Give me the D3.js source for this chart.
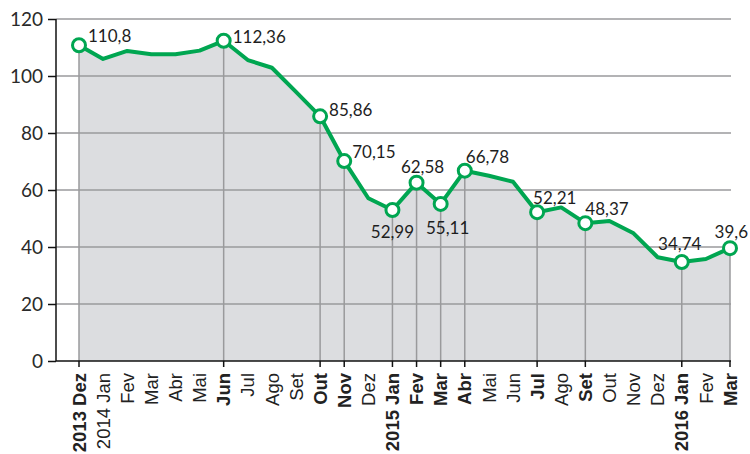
<!DOCTYPE html>
<html>
<head>
<meta charset="utf-8">
<script src="https://cdn.jsdelivr.net/npm/d3@7"></script>
<style>
  body { margin: 0; background: #fff; }
  svg { display: block; }
</style>
</head>
<body>
<div id="chart"></div>
<script>
// Data
var months = ["Dez", "Jan", "Fev", "Mar", "Abr", "Mai", "Jun", "Jul", "Ago", "Set", "Out", "Nov",
              "Dez", "Jan", "Fev", "Mar", "Abr", "Mai", "Jun", "Jul", "Ago", "Set", "Out", "Nov",
              "Dez", "Jan", "Fev", "Mar"];
var years = ["2013", "2014", "", "", "", "", "", "", "", "", "", "",
             "", "2015", "", "", "", "", "", "", "", "", "", "",
             "", "2016", "", ""];
var values = [110.8, 106.0, 108.8, 107.6, 107.6, 108.9, 112.36, 105.6, 102.9, 94.4, 85.86, 70.15,
              57.1, 52.99, 62.58, 55.11, 66.78, 65.0, 62.9, 52.21, 53.9, 48.37, 49.1, 44.8,
              36.4, 34.74, 35.8, 39.6];
var valueLabels = ["110,8", "", "", "", "", "", "112,36", "", "", "", "85,86", "70,15",
                   "", "52,99", "62,58", "55,11", "66,78", "", "", "52,21", "", "48,37", "", "",
                   "", "34,74", "", "39,6"];
var yTicks = [0, 20, 40, 60, 80, 100, 120];

// Label placement for highlighted points: [dx, dy, anchor]
var labelPlace = {
    0: [9, -3, "start"], 6: [9, 2, "start"], 10: [9, 0, "start"], 11: [8, -3, "start"],
    13: [0, 28, "middle"], 14: [6, -10, "middle"], 15: [7, 30, "middle"], 16: [1, -8, "start"],
    19: [-4, -8, "start"], 21: [0, -8, "start"], 25: [-2, -12, "middle"], 27: [18, -10, "end"]
};

var width = 750, height = 454;
var green = "#00a651";
var gridColor = "#9a9a9c";

var svg = d3.select("#chart").append("svg")
    .attr("width", width)
    .attr("height", height);

var idx = d3.range(values.length);

var xScale = d3.scalePoint()
    .domain(idx)
    .range([79, 730]);
var yScale = d3.scaleLinear()
    .domain([0, 120])
    .range([361, 19]);

var isKey = function(i) { return valueLabels[i] !== ""; };

// Area
svg.append("path")
    .datum(idx)
    .attr("fill", "#dcdde0")
    .attr("d", d3.area()
        .x(i => xScale(i))
        .y0(yScale(0))
        .y1(i => yScale(values[i])));

// Horizontal grid
svg.append("g")
    .selectAll("line")
    .data(yTicks.filter(d => d > 0))
    .enter()
    .append("line")
    .attr("x1", 56)
    .attr("x2", xScale(idx.length - 1) + 1)
    .attr("y1", d => yScale(d))
    .attr("y2", d => yScale(d))
    .attr("stroke", gridColor)
    .attr("stroke-width", 1.5);

// Vertical drop lines at highlighted points
svg.append("g")
    .selectAll("line")
    .data(idx.filter(isKey))
    .enter()
    .append("line")
    .attr("x1", i => xScale(i))
    .attr("x2", i => xScale(i))
    .attr("y1", i => yScale(values[i]))
    .attr("y2", yScale(0))
    .attr("stroke", gridColor)
    .attr("stroke-width", 1.5);

// Y axis
var yAxis = d3.axisLeft(yScale)
    .tickValues(yTicks)
    .tickSize(8)
    .tickPadding(5);
var yAxisG = svg.append("g")
    .attr("transform", "translate(56,0)")
    .call(yAxis);
yAxisG.select(".domain").remove();
yAxisG.append("line")
    .attr("x1", 0).attr("x2", 0)
    .attr("y1", yScale(120)).attr("y2", yScale(0))
    .attr("stroke", "#111").attr("stroke-width", 1.5);
yAxisG.selectAll(".tick line").attr("stroke", "#111").attr("stroke-width", 1.5);
yAxisG.selectAll(".tick text")
    .attr("fill", "#2a2a2a")
    .style("font-family", "Lato, sans-serif")
    .style("font-size", "19px");

// X axis
svg.append("line")
    .attr("x1", 56)
    .attr("x2", xScale(idx.length - 1) + 1)
    .attr("y1", yScale(0))
    .attr("y2", yScale(0))
    .attr("stroke", "#111")
    .attr("stroke-width", 1.5);

svg.append("g")
    .selectAll("line")
    .data(idx.filter(isKey))
    .enter()
    .append("line")
    .attr("x1", i => xScale(i))
    .attr("x2", i => xScale(i))
    .attr("y1", yScale(0))
    .attr("y2", yScale(0) + 6)
    .attr("stroke", "#111")
    .attr("stroke-width", 1.5);

svg.append("g")
    .selectAll("text")
    .data(idx)
    .enter()
    .append("text")
    .attr("transform", i => "translate(" + [xScale(i), yScale(0) + 12] + ") rotate(-90)")
    .attr("text-anchor", "end")
    .attr("dy", "0.36em")
    .attr("fill", "#222")
    .style("font-family", "'Liberation Sans', Arial, sans-serif")
    .style("font-size", "18.5px")
    .style("font-weight", i => isKey(i) ? "bold" : "normal")
    .text(i => (years[i] ? years[i] + " " : "") + months[i]);

// Line
svg.append("path")
    .datum(idx)
    .attr("fill", "none")
    .attr("stroke", green)
    .attr("stroke-width", 4)
    .attr("stroke-linejoin", "round")
    .attr("d", d3.line()
        .x(i => xScale(i))
        .y(i => yScale(values[i])));

// Markers
svg.append("g")
    .selectAll("circle")
    .data(idx.filter(isKey))
    .enter()
    .append("circle")
    .attr("cx", i => xScale(i))
    .attr("cy", i => yScale(values[i]))
    .attr("r", 6.5)
    .attr("fill", "#fff")
    .attr("stroke", green)
    .attr("stroke-width", 3);

// Value labels
svg.append("g")
    .selectAll("text")
    .data(idx.filter(isKey))
    .enter()
    .append("text")
    .attr("x", i => xScale(i) + labelPlace[i][0])
    .attr("y", i => yScale(values[i]) + labelPlace[i][1])
    .attr("text-anchor", i => labelPlace[i][2])
    .attr("fill", "#1e1e1e")
    .style("font-family", "Lato, sans-serif")
    .style("font-size", "17px")
    .text(i => valueLabels[i]);
</script>
</body>
</html>
